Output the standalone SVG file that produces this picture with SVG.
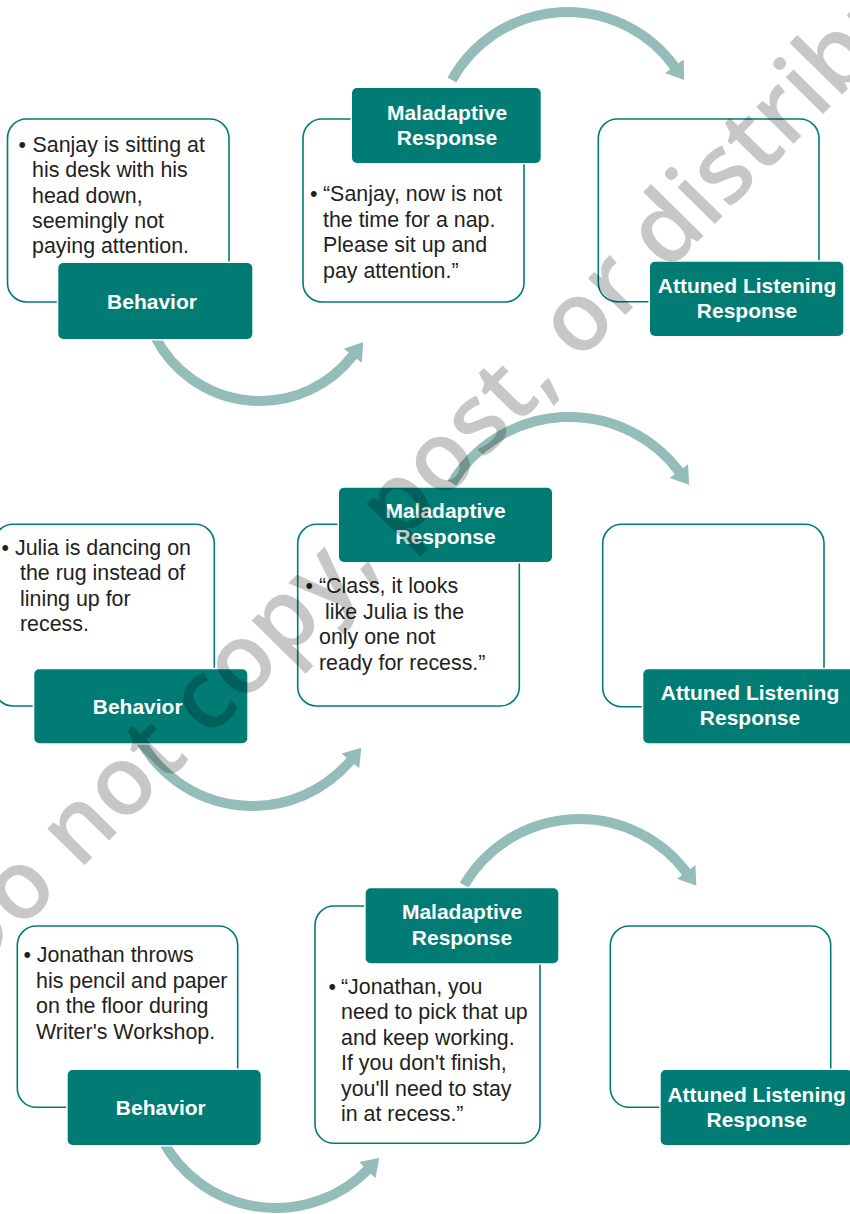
<svg xmlns="http://www.w3.org/2000/svg" width="850" height="1214" viewBox="0 0 850 1214">
  <defs>
    <style>
      .frame { fill: #fff; stroke: #007c74; stroke-width: 1.6; }
      .tab { fill: #007c74; stroke: #fff; stroke-width: 3; paint-order: stroke; }
      .title { font-family: "Liberation Sans", Arial, Helvetica, sans-serif; font-size: 21px; font-weight: bold; fill: #fff; text-anchor: middle; }
      .body { font-family: "Liberation Sans", Arial, Helvetica, sans-serif; font-size: 21.4px; fill: #231f20; }
      .flow { fill: none; stroke: #94bdb9; stroke-width: 10; marker-end: url(#head); }
      .mark { font-family: "Open Sans", "DejaVu Sans", sans-serif; font-size: 97px; font-weight: 600; fill: #000; fill-opacity: 0.22; }
    </style>
    <marker id="head" markerUnits="userSpaceOnUse" markerWidth="22" markerHeight="26" viewBox="0 -13 22 26" refX="1" refY="0" orient="auto" overflow="visible">
      <path d="M0,-11.5 L17,0 L0,11.5 Z" fill="#94bdb9"/>
    </marker>
  </defs>

  <rect width="850" height="1214" fill="#fff"/>

  <!-- curved flow arrows between the stages -->
  <g id="connectors">
    <path class="flow" d="M155.1 336.7 A117.7 117.7 0 0 0 353.4 354.9"/>
    <path class="flow" d="M451.9 80 A132.3 132.3 0 0 1 674.9 67.1"/>
    <path class="flow" d="M139 737.8 A128.6 128.6 0 0 0 351 760.1"/>
    <path class="flow" d="M452 483.1 A137.5 137.5 0 0 1 679.5 471.9"/>
    <path class="flow" d="M162.1 1139.6 A129 129 0 0 0 368 1169.4"/>
    <path class="flow" d="M464.1 885.1 A133.8 133.8 0 0 1 686.8 872.8"/>
  </g>

  <!-- Scenario 1: Sanjay -->
  <g id="behavior-1">
    <rect class="frame" x="7.5" y="119" width="221.5" height="183" rx="19"/>
    <text class="body" x="18.5" y="151.5">•</text>
    <text class="body" x="32.5" y="151.5">Sanjay is sitting at</text>
    <text class="body" x="32" y="177">his desk with his</text>
    <text class="body" x="32" y="202.5">head down,</text>
    <text class="body" x="32" y="228">seemingly not</text>
    <text class="body" x="32" y="253.3">paying attention.</text>
    <rect class="tab" x="58.3" y="263" width="194" height="76" rx="5"/>
    <text class="title" x="152" y="309.3">Behavior</text>
  </g>
  <g id="maladaptive-1">
    <rect class="frame" x="303" y="119" width="221" height="183" rx="19"/>
    <text class="body" x="310" y="201">•</text>
    <text class="body" x="323" y="201">“Sanjay, now is not</text>
    <text class="body" x="323" y="226.5">the time for a nap.</text>
    <text class="body" x="323" y="252">Please sit up and</text>
    <text class="body" x="323" y="277.5">pay attention.”</text>
    <rect class="tab" x="352" y="88" width="188.7" height="75" rx="5"/>
    <text class="title" x="447" y="119.5">Maladaptive</text>
    <text class="title" x="447" y="145">Response</text>
  </g>
  <g id="attuned-1">
    <rect class="frame" x="598.3" y="119" width="220.7" height="182.7" rx="19"/>
    <rect class="tab" x="650" y="261.7" width="193.3" height="74.3" rx="5"/>
    <text class="title" x="747" y="292.7">Attuned Listening</text>
    <text class="title" x="747" y="318.3">Response</text>
  </g>

  <!-- Scenario 2: Julia -->
  <g id="behavior-2">
    <rect class="frame" x="-6" y="524.3" width="220.3" height="181.7" rx="19"/>
    <text class="body" x="1.5" y="554.5">•</text>
    <text class="body" x="15" y="554.5">Julia is dancing on</text>
    <text class="body" x="20" y="580">the rug instead of</text>
    <text class="body" x="20" y="605.5">lining up for</text>
    <text class="body" x="20" y="631">recess.</text>
    <rect class="tab" x="34.3" y="669.3" width="213" height="74" rx="5"/>
    <text class="title" x="137.7" y="714">Behavior</text>
  </g>
  <g id="maladaptive-2">
    <rect class="frame" x="297.7" y="524.3" width="221.6" height="181.7" rx="19"/>
    <text class="body" x="305.5" y="593">•</text>
    <text class="body" x="319" y="593">“Class, it looks</text>
    <text class="body" x="325" y="618.5">like Julia is the</text>
    <text class="body" x="319" y="644">only one not</text>
    <text class="body" x="319" y="669.5">ready for recess.”</text>
    <rect class="tab" x="339" y="487.7" width="213" height="74.3" rx="5"/>
    <text class="title" x="445.5" y="518.3">Maladaptive</text>
    <text class="title" x="445.5" y="544">Response</text>
  </g>
  <g id="attuned-2">
    <rect class="frame" x="602.7" y="524.3" width="221.3" height="182.4" rx="19"/>
    <rect class="tab" x="643.3" y="669.3" width="214" height="74" rx="5"/>
    <text class="title" x="750" y="700">Attuned Listening</text>
    <text class="title" x="750" y="725">Response</text>
  </g>

  <!-- Scenario 3: Jonathan -->
  <g id="behavior-3">
    <rect class="frame" x="17.3" y="926" width="220.4" height="181.3" rx="19"/>
    <text class="body" x="23.5" y="962">•</text>
    <text class="body" x="36.7" y="962">Jonathan throws</text>
    <text class="body" x="36" y="987.5">his pencil and paper</text>
    <text class="body" x="36" y="1013">on the floor during</text>
    <text class="body" x="36" y="1038.5">Writer's Workshop.</text>
    <rect class="tab" x="67.7" y="1070" width="193" height="75" rx="5"/>
    <text class="title" x="160.8" y="1115">Behavior</text>
  </g>
  <g id="maladaptive-3">
    <rect class="frame" x="315" y="906" width="225" height="237.3" rx="19"/>
    <text class="body" x="328.5" y="993.5">•</text>
    <text class="body" x="341" y="993.5">“Jonathan, you</text>
    <text class="body" x="341" y="1019">need to pick that up</text>
    <text class="body" x="341" y="1044.5">and keep working.</text>
    <text class="body" x="341" y="1070">If you don't finish,</text>
    <text class="body" x="341" y="1095.5">you'll need to stay</text>
    <text class="body" x="341" y="1121">in at recess.”</text>
    <rect class="tab" x="365.7" y="888.3" width="192.6" height="75" rx="5"/>
    <text class="title" x="462" y="919.3">Maladaptive</text>
    <text class="title" x="462" y="945">Response</text>
  </g>
  <g id="attuned-3">
    <rect class="frame" x="610.3" y="926" width="220.4" height="181.3" rx="19"/>
    <rect class="tab" x="660.7" y="1070" width="192" height="75" rx="5"/>
    <text class="title" x="756.7" y="1101.7">Attuned Listening</text>
    <text class="title" x="756.7" y="1126.7">Response</text>
  </g>

  <!-- diagonal notice across the sheet -->
  <g id="notice">
    <text class="mark" transform="translate(-30 982) rotate(-45.5)">Do not copy, post, or distribute</text>
  </g>
</svg>
